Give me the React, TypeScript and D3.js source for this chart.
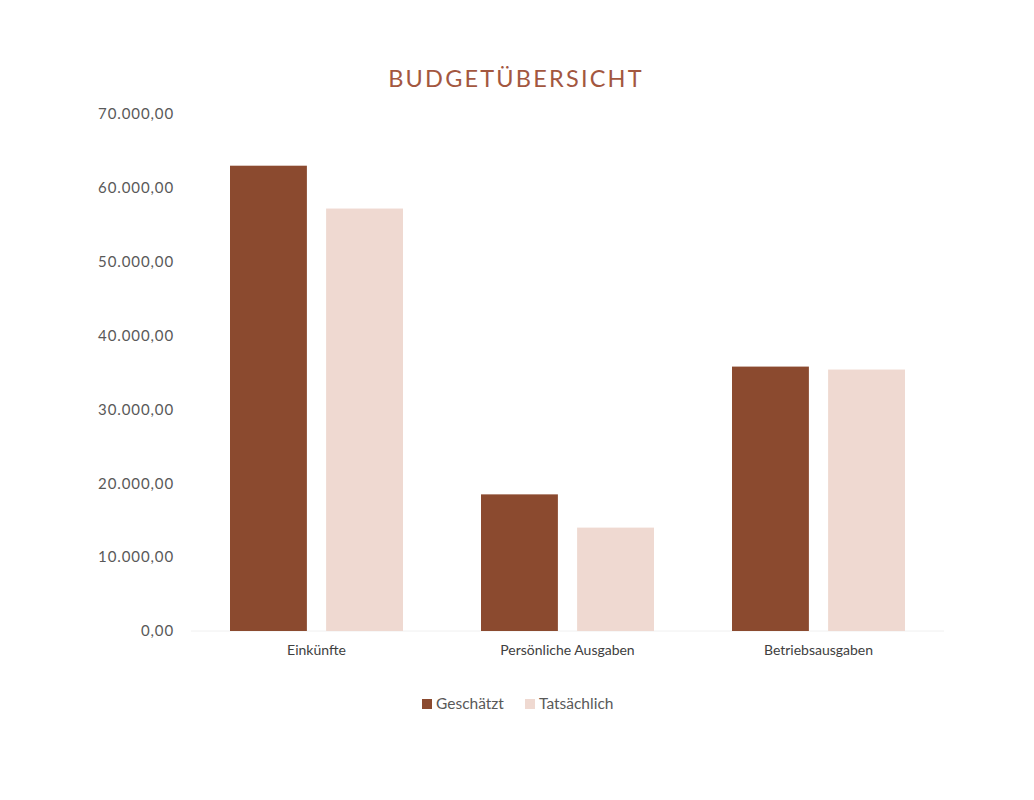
import { useEffect, useRef } from "react";
import * as d3 from "d3";

const categories = ["Einkünfte", "Persönliche Ausgaben", "Betriebsausgaben"];
const seriesNames = ["Geschätzt", "Tatsächlich"];
const geschaetzt = [63000, 18500, 35800];
const tatsaechlich = [57200, 14000, 35400];
const yTicks = [0, 10000, 20000, 30000, 40000, 50000, 60000, 70000];

const COLORS = ["#8B4A2F", "#EFD9D1"];
const FONT = "Lato, 'Open Sans', sans-serif";

export default function App() {
  const ref = useRef<SVGSVGElement | null>(null);

  useEffect(() => {
    const W = 1034, H = 800;
    const svg = d3.select(ref.current);
    svg.attr("viewBox", `0 0 ${W} ${H}`);
    svg.selectAll("*").remove();

    const m = { l: 191, r: 90, t: 114, b: 169 };

    const x0 = d3.scaleBand<string>()
      .domain(categories)
      .range([m.l, W - m.r])
      .padding(0);

    const x1 = d3.scaleBand<string>()
      .domain(seriesNames)
      .range([39, x0.bandwidth() - 39])
      .paddingInner(0.2);

    const y = d3.scaleLinear()
      .domain([0, 70000])
      .range([H - m.b, m.t]);

    const fmt = (v: number) =>
      d3.format(",.2f")(v).replace(/,/g, "#").replace(/\./g, ",").replace(/#/g, ".");

    // title
    svg.append("text")
      .attr("x", 516)
      .attr("y", 87)
      .attr("text-anchor", "middle")
      .attr("font-family", FONT)
      .attr("font-size", 23.5)
      .attr("letter-spacing", 2.2)
      .attr("fill", "#A3573F")
      .text("BUDGETÜBERSICHT");

    // y axis labels
    svg.append("g")
      .selectAll("text")
      .data(yTicks)
      .enter()
      .append("text")
      .attr("x", 174)
      .attr("y", d => y(d))
      .attr("dy", "0.35em")
      .attr("text-anchor", "end")
      .attr("font-family", FONT)
      .attr("font-size", 15)
      .attr("letter-spacing", 0.9)
      .attr("fill", "#595959")
      .text(d => fmt(d));

    // baseline
    svg.append("line")
      .attr("x1", m.l).attr("x2", W - m.r)
      .attr("y1", y(0)).attr("y2", y(0))
      .attr("stroke", "#f0f0f0")
      .attr("stroke-width", 1);

    const values = [geschaetzt, tatsaechlich];
    const groups = svg.append("g")
      .selectAll("g")
      .data(categories)
      .enter()
      .append("g")
      .attr("transform", d => `translate(${x0(d)},0)`);

    groups.selectAll("rect")
      .data((_, i) => seriesNames.map((s, k) => ({ s, v: values[k][i], k })))
      .enter()
      .append("rect")
      .attr("x", d => x1(d.s)!)
      .attr("width", x1.bandwidth())
      .attr("y", d => y(d.v))
      .attr("height", d => y(0) - y(d.v))
      .attr("fill", d => COLORS[d.k]);

    // x labels
    svg.append("g")
      .selectAll("text")
      .data(categories)
      .enter()
      .append("text")
      .attr("x", d => x0(d)! + x0.bandwidth() / 2)
      .attr("y", 655)
      .attr("text-anchor", "middle")
      .attr("font-family", FONT)
      .attr("font-size", 14)
      .attr("fill", "#404040")
      .text(d => d);

    // legend
    const legend = svg.append("g").attr("transform", "translate(422,704)");
    const lx = [0, 103];
    seriesNames.forEach((s, k) => {
      legend.append("rect")
        .attr("x", lx[k]).attr("y", -5)
        .attr("width", 10).attr("height", 10)
        .attr("fill", COLORS[k]);
      legend.append("text")
        .attr("x", lx[k] + 14)
        .attr("y", 0)
        .attr("dy", "0.35em")
        .attr("font-family", FONT)
        .attr("font-size", 15.5)
        .attr("fill", "#595959")
        .text(s);
    });
  }, []);

  return <svg ref={ref} width={1034} height={800} style={{ display: "block", position: "absolute", left: 0, top: 0, background: "#fff" }} />;
}
